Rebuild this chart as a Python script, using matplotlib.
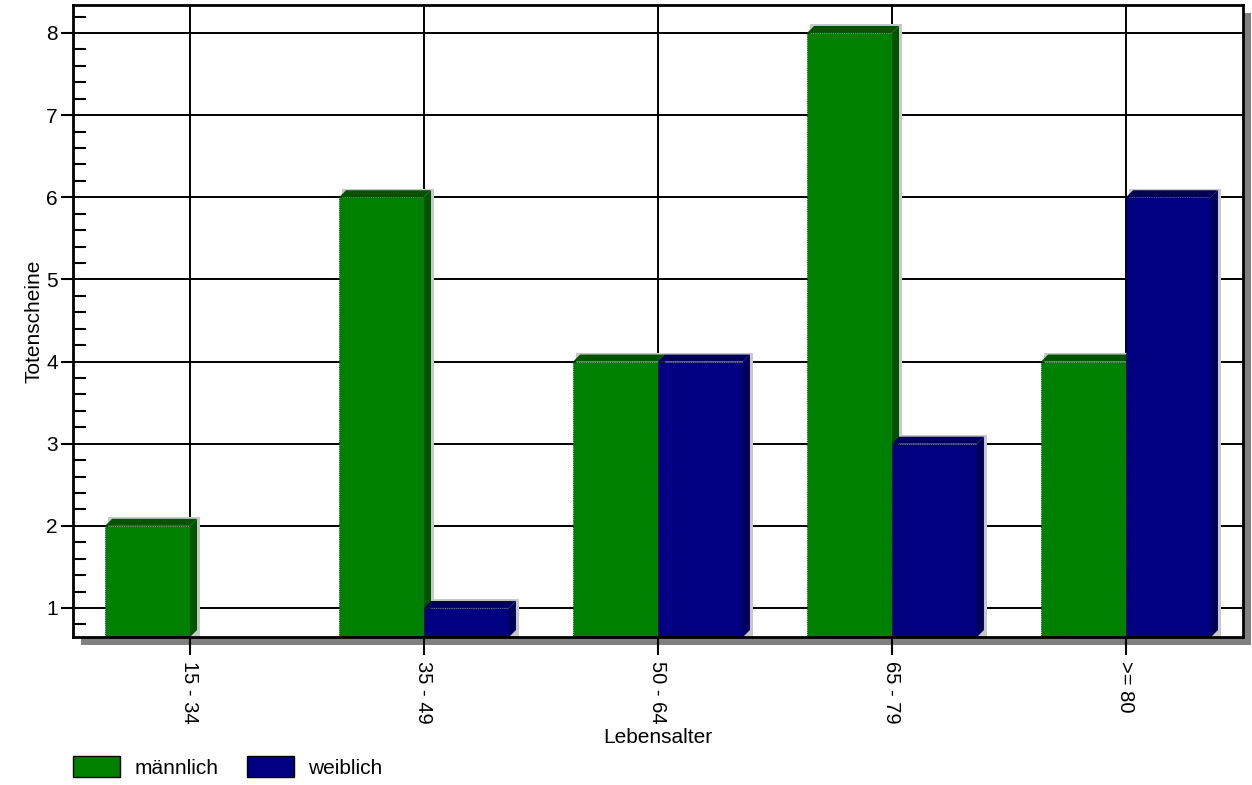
import numpy as np
import matplotlib.pyplot as plt
from matplotlib.patches import Polygon, Rectangle, Patch
from matplotlib.ticker import MultipleLocator

plt.rcParams['font.family'] = ['Liberation Sans', 'DejaVu Sans']

gruppen = ['15 - 34', '35 - 49', '50 - 64', '65 - 79', '>= 80']
maennlich = [2, 6, 4, 8, 4]
weiblich = [0, 1, 4, 3, 6]

fig = plt.figure(figsize=(12.52, 7.85), dpi=100)
ax = fig.add_axes([0.0583, 0.1885, 0.9345, 0.8051])

# grauer Schatten hinter dem Diagramm
fig.patches.append(Rectangle((0.0583 + 8 / 1252, 0.1885 - 8 / 785), 0.9345, 0.8051,
                             transform=fig.transFigure, facecolor='#808080',
                             edgecolor='none', zorder=-5))

ybot, ytop = 0.646, 8.34
ax.set_xlim(-0.5, 4.5)
ax.set_ylim(ybot, ytop)

w = 0.363
dx, dy = 0.03, 0.085
x = np.arange(len(gruppen))


def balken(x0, v, front, dunkel):
    if v <= 0:
        return
    # Schattenrand
    ax.add_patch(Rectangle((x0 + 0.012, ybot), w + dx, v - ybot + dy + 0.02,
                           facecolor='#c8c8c8', edgecolor='none', zorder=1.5))
    ax.bar(x0, v - ybot, bottom=ybot, width=w, align='edge', color=front,
           edgecolor='#003000' if front == '#008000' else '#000040',
           linewidth=0.6, linestyle=':', zorder=2)
    ax.add_patch(Polygon([(x0, v), (x0 + w, v), (x0 + w + dx, v + dy), (x0 + dx, v + dy)],
                         closed=True, facecolor=dunkel, edgecolor='none', zorder=2))
    ax.add_patch(Polygon([(x0 + w, ybot), (x0 + w + dx, ybot + dy),
                          (x0 + w + dx, v + dy), (x0 + w, v)],
                         closed=True, facecolor=dunkel, edgecolor='none', zorder=2))


for i in x:
    balken(i - w, maennlich[i], '#008000', '#005400')
    balken(i, weiblich[i], '#000080', '#000058')

ax.set_xticks(x)
ax.set_xticklabels(gruppen, rotation=270, fontsize=14.5)
ax.yaxis.set_major_locator(MultipleLocator(1))
ax.yaxis.set_minor_locator(MultipleLocator(0.2))
ax.tick_params(axis='y', which='major', direction='out', length=9, width=1.5,
               labelsize=15, pad=2)
ax.tick_params(axis='y', which='minor', direction='in', length=9, width=1.5)
ax.tick_params(axis='x', which='major', direction='out', length=13, width=1.5, pad=4)
ax.grid(True, which='major', color='black', linewidth=1.4, zorder=0.5)
ax.set_axisbelow(True)
for s in ax.spines.values():
    s.set_linewidth(2)
    s.set_zorder(3)

ax.set_xlabel('Lebensalter', fontsize=15, labelpad=3)
ax.set_ylabel('Totenscheine', fontsize=15, labelpad=2)

fig.legend(handles=[Patch(facecolor='#008000', edgecolor='black', label='männlich'),
                    Patch(facecolor='#000080', edgecolor='black', label='weiblich')],
           loc='center left', bbox_to_anchor=(73 / 1252, 18 / 785), ncol=2, frameon=False,
           fontsize=15, handlelength=2.26, handleheight=1.15, handletextpad=0.7,
           columnspacing=1.35, borderpad=0, borderaxespad=0)

fig.savefig('out.png', dpi=100)
